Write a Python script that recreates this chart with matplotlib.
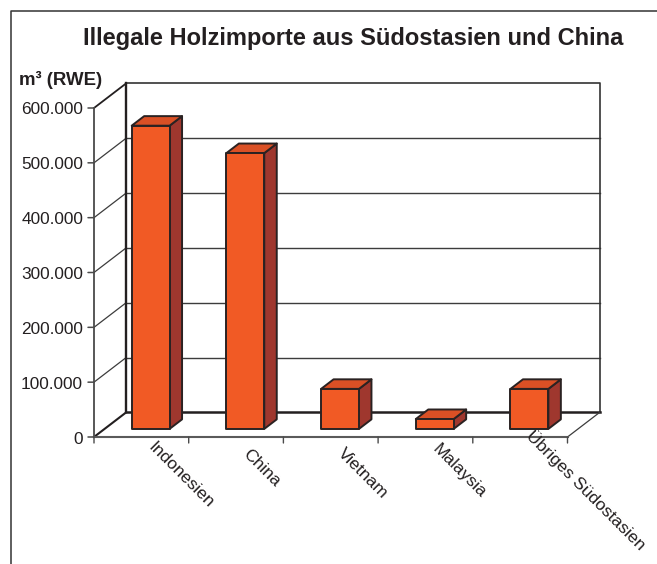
import matplotlib
matplotlib.use('Agg')
import matplotlib.pyplot as plt
from matplotlib.patches import Polygon

plt.rcParams['font.family'] = ['Liberation Sans', 'DejaVu Sans']

categories = ['Indonesien', 'China', 'Vietnam', 'Malaysia', 'Übriges Südostasien']
values = [553000, 503000, 73000, 18000, 73000]
yticks = [0, 100000, 200000, 300000, 400000, 500000, 600000]
ytick_labels = ['0', '100.000', '200.000', '300.000', '400.000', '500.000', '600.000']

W, H = 657, 564
DARK = '#231f20'
AXIS = '#4a4a4a'

# wall depth in data units, bars sit a third of the way into the floor
DX = 0.338
DY = 44700
BAR_W = 0.40
BAR_DX = DX * 0.39
BAR_DY = DY * 0.39
BAR_X0 = DX * 0.29
BAR_Y0 = DY * 0.33


def draw_bar(ax, i, v):
    x0 = i + 0.5 - BAR_W / 2 + BAR_X0
    x1 = x0 + BAR_W
    y0 = BAR_Y0
    y1 = y0 + v
    front = [(x0, y0), (x1, y0), (x1, y1), (x0, y1)]
    top = [(x0, y1), (x1, y1), (x1 + BAR_DX, y1 + BAR_DY), (x0 + BAR_DX, y1 + BAR_DY)]
    side = [(x1, y0), (x1 + BAR_DX, y0 + BAR_DY), (x1 + BAR_DX, y1 + BAR_DY), (x1, y1)]
    for pts, col in [(side, '#9f372e'), (top, '#da5025'), (front, '#f15a25')]:
        ax.add_patch(Polygon(pts, closed=True, facecolor=col, edgecolor='#2a2222',
                             linewidth=1.4, joinstyle='round', zorder=5 + i, clip_on=False))


fig = plt.figure(figsize=(W / 100, H / 100), dpi=100)

# outer frame, only top and left are visible
fig.add_artist(plt.Line2D([10.5 / W, 10.5 / W, 1], [0, 1 - 11 / H, 1 - 11 / H],
                          color='#333333', lw=1.1))

ax = fig.add_axes([94 / W, 1 - 437 / H, 473.5 / W, 329 / H])
ax.set_xlim(0, 5)
ax.set_ylim(0, 600000)
ax.axis('off')

# back wall and side wall gridlines
for v in yticks[1:-1]:
    ax.plot([DX, 5 + DX], [v + DY, v + DY], color='#3c3c3c', lw=1.0, clip_on=False, zorder=1)
    ax.plot([0, DX], [v, v + DY], color='#3c3c3c', lw=0.9, clip_on=False, zorder=1)
ax.plot([DX, 5 + DX, 5 + DX], [600000 + DY, 600000 + DY, DY], color='#333333', lw=1.2,
        clip_on=False, zorder=2)
ax.plot([0, DX], [600000, 600000 + DY], color=DARK, lw=1.3, clip_on=False, zorder=2)
ax.plot([DX, DX], [DY, 600000 + DY], color=DARK, lw=1.7, clip_on=False, zorder=2)
ax.plot([DX, 5 + DX], [DY, DY], color=DARK, lw=1.8, clip_on=False, zorder=2)
ax.plot([0, DX], [0, DY], color=DARK, lw=1.5, clip_on=False, zorder=2)
ax.plot([5, 5 + DX], [0, DY], color='#3c3c3c', lw=0.9, clip_on=False, zorder=2)

# front axes with outward ticks
ax.plot([0, 0], [0, 600000], color=AXIS, lw=1.3, clip_on=False, zorder=3)
ax.plot([0, 5], [0, 0], color='#5a5a5a', lw=1.5, clip_on=False, zorder=3)
for v, lab in zip(yticks, ytick_labels):
    ax.annotate('', xy=(0, v), xytext=(-6, 0), textcoords='offset pixels',
                arrowprops=dict(arrowstyle='-', color=AXIS, lw=1.1, shrinkA=0, shrinkB=0))
    ax.annotate(lab, xy=(0, v), xytext=(-11, -2), textcoords='offset pixels', ha='right',
                va='center', fontsize=12.4, color=DARK)
for i in range(6):
    ax.annotate('', xy=(i, 0), xytext=(0, -6), textcoords='offset pixels',
                arrowprops=dict(arrowstyle='-', color=AXIS, lw=1.0, shrinkA=0, shrinkB=0))

for i, v in enumerate(values):
    draw_bar(ax, i, v)

# rotated category labels, the long one starts higher up
label_pad = [-8, -15, -14, -10, 4]
for i, (name, pad) in enumerate(zip(categories, label_pad)):
    ax.annotate(name, xy=(i + 0.5, 0), xytext=(9, pad), textcoords='offset pixels',
                rotation=-45, rotation_mode='anchor', ha='left', va='center',
                fontsize=12.6, color=DARK, annotation_clip=False, zorder=20)

fig.text(353.5 / W, 1 - 38 / H, 'Illegale Holzimporte aus Südostasien und China', ha='center',
         va='center', fontsize=17, fontweight='bold', color=DARK)
fig.text(19 / W, 1 - 80 / H, 'm³ (RWE)', ha='left', va='center', fontsize=13.4,
         fontweight='bold', color=DARK)

fig.savefig('out.png', dpi=100)
